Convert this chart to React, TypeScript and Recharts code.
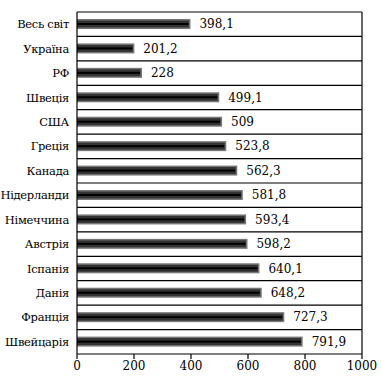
import { BarChart, Bar, XAxis, YAxis, CartesianGrid, LabelList } from 'recharts';

const countries = ['Весь світ', 'Україна', 'РФ', 'Швеція', 'США', 'Греція', 'Канада', 'Нідерланди', 'Німеччина', 'Австрія', 'Іспанія', 'Данія', 'Франція', 'Швейцарія'];
const values = [398.1, 201.2, 228, 499.1, 509, 523.8, 562.3, 581.8, 593.4, 598.2, 640.1, 648.2, 727.3, 791.9];
const xTicks = [0, 200, 400, 600, 800, 1000];

const data = countries.map((name, i) => ({ name, value: values[i] }));

const FONT = 'DejaVu Serif';

// dark bar with a black stripe through the middle, like the scanned print
function StripedBar(props: any) {
  const { x, y, width, height } = props;
  if (!width || width <= 0) return null;
  return (
    <g>
      <rect x={x} y={y} width={width} height={height} fill="#777" />
      <rect x={x} y={y + 1.5} width={Math.max(width - 1.5, 0)} height={height - 3} fill="#333" />
      <rect x={x} y={y + height / 2 - 1} width={Math.max(width - 2, 0)} height={2} fill="#000" />
    </g>
  );
}

const fmt = (v: any) => String(v).replace('.', ',');

function Tick(props: any) {
  const { x, y, payload, textAnchor } = props;
  const isY = textAnchor === 'end';
  return (
    <text x={x} y={y} textAnchor={textAnchor} fill="#000" fontSize={isY ? 11.5 : 12}
      style={{ fontFamily: FONT, letterSpacing: isY ? -0.3 : 0 }}
      dominantBaseline={isY ? 'central' : 'hanging'}>
      {payload.value}
    </text>
  );
}

export default function App() {
  return (
    <div style={{ position: 'absolute', left: 0, top: 0, background: '#fff' }}>
      <BarChart
        width={381}
        height={381}
        data={data}
        layout="vertical"
        margin={{ top: 12, right: 19, bottom: 0, left: 0 }}
        barSize={10}
      >
        <CartesianGrid
          stroke="#000"
          strokeWidth={1.2}
          horizontalCoordinatesGenerator={({ offset }: any) =>
            countries.map((_, i) => offset.top + (i * offset.height) / countries.length)
          }
          verticalCoordinatesGenerator={({ offset }: any) => [offset.left + offset.width]}
        />
        <XAxis
          type="number"
          domain={[0, 1000]}
          ticks={xTicks}
          height={27}
          stroke="#000"
          strokeWidth={1.2}
          tickSize={5}
          tick={<Tick />}
        />
        <YAxis
          type="category"
          dataKey="name"
          width={77}
          stroke="#000"
          strokeWidth={1.2}
          tickLine={false}
          interval={0}
          tick={<Tick />}
        />
        <Bar dataKey="value" shape={<StripedBar />} isAnimationActive={false}>
          <LabelList
            dataKey="value"
            position="right"
            offset={9}
            formatter={fmt}
            fontSize={12}
            fill="#000"
            style={{ fontFamily: FONT }}
          />
        </Bar>
      </BarChart>
    </div>
  );
}
